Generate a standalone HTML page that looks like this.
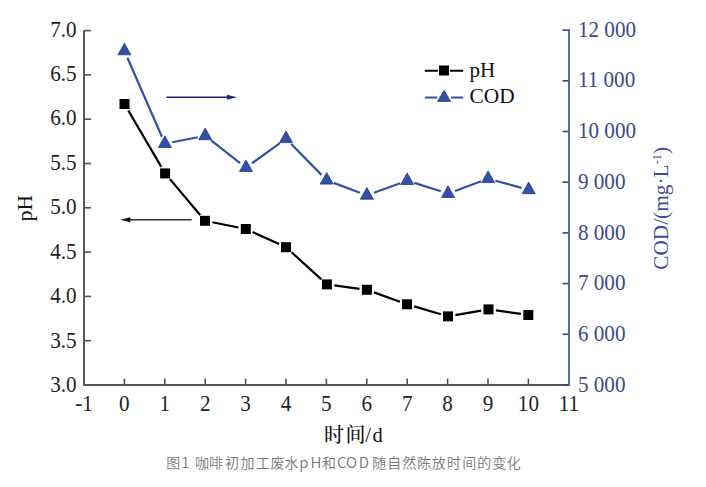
<!DOCTYPE html>
<html><head><meta charset="utf-8"><style>
html,body{margin:0;padding:0;background:#fff;width:706px;height:487px;overflow:hidden}
svg{display:block}
</style></head><body>
<svg width="706" height="487" viewBox="0 0 706 487">
<g stroke="#525252" stroke-width="1.6" fill="none">
<path d="M84 30.6 V385.0 H569" stroke-width="1.9"/>
<path d="M84 340.7 h7"/>
<path d="M84 296.4 h7"/>
<path d="M84 252.1 h7"/>
<path d="M84 207.8 h7"/>
<path d="M84 163.5 h7"/>
<path d="M84 119.2 h7"/>
<path d="M84 74.9 h7"/>
<path d="M84 30.6 h7"/>
<path d="M124.4 385.0 v-6.5"/>
<path d="M164.8 385.0 v-6.5"/>
<path d="M205.2 385.0 v-6.5"/>
<path d="M245.6 385.0 v-6.5"/>
<path d="M286.0 385.0 v-6.5"/>
<path d="M326.4 385.0 v-6.5"/>
<path d="M366.8 385.0 v-6.5"/>
<path d="M407.2 385.0 v-6.5"/>
<path d="M447.6 385.0 v-6.5"/>
<path d="M488.0 385.0 v-6.5"/>
<path d="M528.4 385.0 v-6.5"/>
</g>
<g stroke="#3f4679" stroke-width="1.6" fill="none">
<path d="M569 385.0 h-6.5"/>
<path d="M569 334.3 h-6.5"/>
<path d="M569 283.6 h-6.5"/>
<path d="M569 232.9 h-6.5"/>
<path d="M569 182.2 h-6.5"/>
<path d="M569 131.5 h-6.5"/>
<path d="M569 80.8 h-6.5"/>
<path d="M569 30.1 h-6.5"/>
</g>
<path d="M569 29.3 V385.9" stroke="#4a57aa" stroke-width="1.8" fill="none"/>
<path d="M127.40 57.81L161.90 136.76M172.26 142.21L197.84 137.26M211.12 140.44L240.08 163.02M252.08 163.24L279.92 143.13M291.25 144.09L321.45 174.88M333.72 182.87L359.88 192.70M373.95 192.76L400.15 183.20M414.35 182.89L440.85 191.27M455.04 190.94L481.06 181.33M495.33 180.71L521.47 187.86" fill="none" stroke="#3151a6" stroke-width="2.2"/>
<path d="M128.29 110.47L161.31 166.93M169.93 179.14L200.17 215.06M212.35 222.28L238.45 227.52M252.63 232.09L279.17 244.11M291.55 252.25L321.35 279.35M334.33 285.40L359.47 288.80M373.95 292.35L399.95 301.75M414.19 306.42L440.81 314.28M455.39 315.12L481.11 310.68M495.93 310.44L520.87 313.96" fill="none" stroke="#000" stroke-width="2.2"/>
<rect x="119.5" y="99.0" width="10" height="10" fill="#000"/>
<rect x="160.1" y="168.4" width="10" height="10" fill="#000"/>
<rect x="200.0" y="215.8" width="10" height="10" fill="#000"/>
<rect x="240.8" y="224.0" width="10" height="10" fill="#000"/>
<rect x="281.0" y="242.2" width="10" height="10" fill="#000"/>
<rect x="321.9" y="279.4" width="10" height="10" fill="#000"/>
<rect x="361.9" y="284.8" width="10" height="10" fill="#000"/>
<rect x="402.0" y="299.3" width="10" height="10" fill="#000"/>
<rect x="443.0" y="311.4" width="10" height="10" fill="#000"/>
<rect x="483.5" y="304.4" width="10" height="10" fill="#000"/>
<rect x="523.3" y="310.0" width="10" height="10" fill="#000"/>
<path d="M124.4 43.2 L130.9 54.8 L117.9 54.8 Z" fill="#3151a6" stroke="#24398a" stroke-width="0.8"/>
<path d="M164.9 135.9 L171.4 147.5 L158.4 147.5 Z" fill="#3151a6" stroke="#24398a" stroke-width="0.8"/>
<path d="M205.2 128.1 L211.7 139.7 L198.7 139.7 Z" fill="#3151a6" stroke="#24398a" stroke-width="0.8"/>
<path d="M246.0 159.9 L252.5 171.5 L239.5 171.5 Z" fill="#3151a6" stroke="#24398a" stroke-width="0.8"/>
<path d="M286.0 131.0 L292.5 142.6 L279.5 142.6 Z" fill="#3151a6" stroke="#24398a" stroke-width="0.8"/>
<path d="M326.7 172.5 L333.2 184.1 L320.2 184.1 Z" fill="#3151a6" stroke="#24398a" stroke-width="0.8"/>
<path d="M366.9 187.6 L373.4 199.2 L360.4 199.2 Z" fill="#3151a6" stroke="#24398a" stroke-width="0.8"/>
<path d="M407.2 172.9 L413.7 184.5 L400.7 184.5 Z" fill="#3151a6" stroke="#24398a" stroke-width="0.8"/>
<path d="M448.0 185.8 L454.5 197.4 L441.5 197.4 Z" fill="#3151a6" stroke="#24398a" stroke-width="0.8"/>
<path d="M488.1 171.0 L494.6 182.6 L481.6 182.6 Z" fill="#3151a6" stroke="#24398a" stroke-width="0.8"/>
<path d="M528.7 182.1 L535.2 193.7 L522.2 193.7 Z" fill="#3151a6" stroke="#24398a" stroke-width="0.8"/>
<path d="M166.4 97.2 H228" stroke="#1f2a6e" stroke-width="1.6"/>
<path d="M237.1 97.2 L226.9 94.7 L226.9 99.7 Z" fill="#1f2a6e"/>
<path d="M191.6 219.7 H129" stroke="#333" stroke-width="1.6"/>
<path d="M120.2 219.7 L130.4 217.2 L130.4 222.2 Z" fill="#111"/>
<path d="M424.8 70.7 H437.9 M450 70.7 H463.2" stroke="#000" stroke-width="2"/>
<rect x="439" y="65.5" width="10" height="10" fill="#000"/>
<path d="M424.8 97.6 H437.2 M451 97.6 H463.2" stroke="#3151a6" stroke-width="2"/>
<path d="M444.1 90.2 L450.6 101.4 L437.6 101.4 Z" fill="#3151a6" stroke="#24398a" stroke-width="0.8"/>
<g font-family="Liberation Serif, serif" font-size="21" fill="#111">
<text x="469.6" y="76.6">pH</text>
<text x="469.5" y="103.1" font-size="21.4">COD</text>
</g>
<g font-family="Liberation Serif, serif" font-size="23" fill="#222">
<text transform="translate(76.7 392.00) scale(0.92,1)" text-anchor="end">3.0</text>
<text transform="translate(76.7 347.57) scale(0.92,1)" text-anchor="end">3.5</text>
<text transform="translate(76.7 303.15) scale(0.92,1)" text-anchor="end">4.0</text>
<text transform="translate(76.7 258.73) scale(0.92,1)" text-anchor="end">4.5</text>
<text transform="translate(76.7 214.30) scale(0.92,1)" text-anchor="end">5.0</text>
<text transform="translate(76.7 169.88) scale(0.92,1)" text-anchor="end">5.5</text>
<text transform="translate(76.7 125.45) scale(0.92,1)" text-anchor="end">6.0</text>
<text transform="translate(76.7 81.03) scale(0.92,1)" text-anchor="end">6.5</text>
<text transform="translate(76.7 36.60) scale(0.92,1)" text-anchor="end">7.0</text>
<text transform="translate(84.0 410.6) scale(0.92,1)" text-anchor="middle">-1</text>
<text transform="translate(124.4 410.6) scale(0.92,1)" text-anchor="middle">0</text>
<text transform="translate(164.8 410.6) scale(0.92,1)" text-anchor="middle">1</text>
<text transform="translate(205.2 410.6) scale(0.92,1)" text-anchor="middle">2</text>
<text transform="translate(245.6 410.6) scale(0.92,1)" text-anchor="middle">3</text>
<text transform="translate(286.0 410.6) scale(0.92,1)" text-anchor="middle">4</text>
<text transform="translate(326.4 410.6) scale(0.92,1)" text-anchor="middle">5</text>
<text transform="translate(366.8 410.6) scale(0.92,1)" text-anchor="middle">6</text>
<text transform="translate(407.2 410.6) scale(0.92,1)" text-anchor="middle">7</text>
<text transform="translate(447.6 410.6) scale(0.92,1)" text-anchor="middle">8</text>
<text transform="translate(488.0 410.6) scale(0.92,1)" text-anchor="middle">9</text>
<text transform="translate(528.4 410.6) scale(0.92,1)" text-anchor="middle">10</text>
<text transform="translate(568.8 410.6) scale(0.92,1)" text-anchor="middle">11</text>
</g>
<g font-family="Liberation Serif, serif" font-size="23" fill="#3a4890">
<text transform="translate(577.9 391.90) scale(0.92,1)">5 000</text>
<text transform="translate(577.9 341.14) scale(0.92,1)">6 000</text>
<text transform="translate(577.9 290.38) scale(0.92,1)">7 000</text>
<text transform="translate(577.9 239.62) scale(0.92,1)">8 000</text>
<text transform="translate(577.9 188.86) scale(0.92,1)">9 000</text>
<text transform="translate(577.9 138.10) scale(0.92,1)">10 000</text>
<text transform="translate(577.9 87.34) scale(0.92,1)">11 000</text>
<text transform="translate(577.9 36.58) scale(0.92,1)">12 000</text>
</g>
<text transform="translate(31.7 221.3) rotate(-90)" font-family="Liberation Serif, serif" font-size="21.5" fill="#111">pH</text>
<text transform="translate(668.3 269.8) rotate(-90)" font-family="Liberation Serif, serif" font-size="21.3" fill="#3a4c9c">COD/(mg·L<tspan dy="-7.5" font-size="12.5">-1</tspan><tspan dy="7.5">)</tspan></text>
<text y="441.6" font-family="Liberation Serif, 'Noto Serif CJK SC', serif" font-size="20" fill="#111"><tspan x="324 345.4" font-weight="500">时间</tspan><tspan x="365.3 372.4" font-size="20.5">/d</tspan></text>
<text y="468.4" font-family="'Noto Sans CJK SC', sans-serif" font-weight="350" font-size="14" fill="#777"><tspan x="166.35">图</tspan><tspan x="181.2" font-size="15">1</tspan><tspan x="190 194.95 208.9 224.95 240.6 255.9 270.6 284.5"> 咖啡初加工废水</tspan><tspan x="299.35 310.6" font-size="15">pH</tspan><tspan x="322.0">和</tspan><tspan x="337.0 346.1 358.75" font-size="15">COD</tspan><tspan x="372.2 387.2 402.2 417.2 431.7 446.7 462.2 477.2 492.2 506.7">随自然陈放时间的变化</tspan></text>
</svg>
</body></html>
